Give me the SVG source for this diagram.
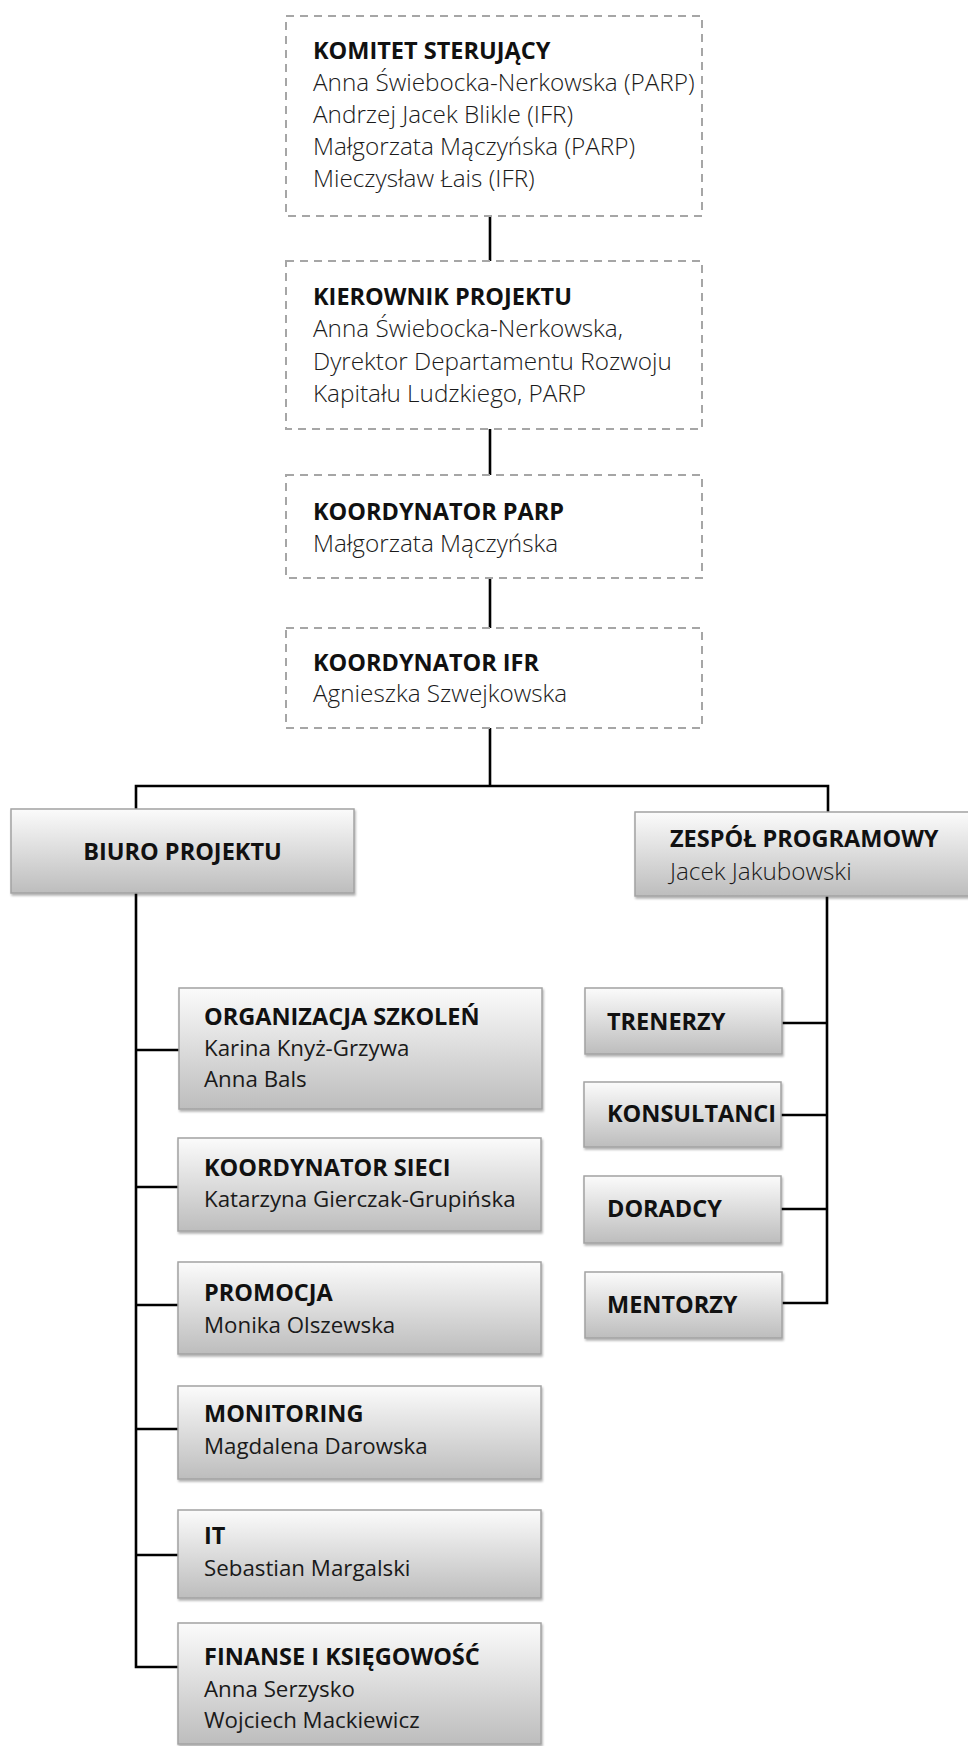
<svg xmlns="http://www.w3.org/2000/svg" width="968" height="1746" viewBox="0 0 968 1746">
<defs>
<linearGradient id="g" x1="0" y1="0" x2="0" y2="1">
<stop offset="0" stop-color="#fbfbfb"/>
<stop offset="1" stop-color="#bdbdbd"/>
</linearGradient>
<filter id="sh" x="-5%" y="-10%" width="115%" height="130%">
<feDropShadow dx="1" dy="2" stdDeviation="1.2" flood-color="#000" flood-opacity="0.3"/>
</filter>
<style>
.dash{fill:#fff;stroke:#a6a6a6;stroke-width:2;stroke-dasharray:8 6}
.box{fill:url(#g);stroke:#a3a3a3;stroke-width:1.5;filter:url(#sh)}
.t{font-family:"Open Sans","Noto Sans","Liberation Sans",sans-serif;font-size:23.5px;font-weight:700;fill:#111}
.n{font-family:"Open Sans","Noto Sans","Liberation Sans",sans-serif;font-size:22.3px;font-weight:400;fill:#1a1a1a}
.l{font-family:"Open Sans","Noto Sans","Liberation Sans",sans-serif;font-size:24.3px;font-weight:300;fill:#1a1a1a}
.c{fill:none;stroke:#000;stroke-width:2.6}
</style>
</defs>
<rect width="968" height="1746" fill="#fff"/>
<g id="connectors">
<path class="c" d="M490 216V261M490 429V475M490 578V628M490 728V786"/>
<path class="c" d="M136 809V786H828V812"/>
<path class="c" d="M136 893V1667H178M136 1050H179M136 1187H178M136 1305H178M136 1429H178M136 1555H178"/>
<path class="c" d="M827 896V1303H782M782 1023H827M781 1115H827M781 1209H827"/>
</g>
<g id="komitet">
<rect class="dash" x="286" y="16" width="416" height="200"/>
<text class="t" x="313" y="59">KOMITET STERUJĄCY</text>
<text class="l" x="313" y="91">Anna Świebocka-Nerkowska (PARP)</text>
<text class="l" x="313" y="123">Andrzej Jacek Blikle (IFR)</text>
<text class="l" x="313" y="155">Małgorzata Mączyńska (PARP)</text>
<text class="l" x="313" y="187">Mieczysław Łais (IFR)</text>
</g>
<g id="kierownik">
<rect class="dash" x="286" y="261" width="416" height="168"/>
<text class="t" x="313" y="305">KIEROWNIK PROJEKTU</text>
<text class="l" x="313" y="337">Anna Świebocka-Nerkowska,</text>
<text class="l" x="313" y="370">Dyrektor Departamentu Rozwoju</text>
<text class="l" x="313" y="402">Kapitału Ludzkiego, PARP</text>
</g>
<g id="koord-parp">
<rect class="dash" x="286" y="475" width="416" height="103"/>
<text class="t" x="313" y="520">KOORDYNATOR PARP</text>
<text class="l" x="313" y="552">Małgorzata Mączyńska</text>
</g>
<g id="koord-ifr">
<rect class="dash" x="286" y="628" width="416" height="100"/>
<text class="t" x="313" y="671">KOORDYNATOR IFR</text>
<text class="l" x="313" y="702">Agnieszka Szwejkowska</text>
</g>
<g id="biuro">
<rect class="box" x="11" y="809" width="343" height="84"/>
<text class="t" x="182.5" y="860" text-anchor="middle">BIURO PROJEKTU</text>
</g>
<g id="zespol">
<rect class="box" x="635" y="812" width="345" height="84"/>
<text class="t" x="670" y="847">ZESPÓŁ PROGRAMOWY</text>
<text class="l" x="670" y="880">Jacek Jakubowski</text>
</g>
<g id="organizacja">
<rect class="box" x="179" y="988" width="363" height="121"/>
<text class="t" x="204" y="1025">ORGANIZACJA SZKOLEŃ</text>
<text class="n" x="204" y="1056">Karina Knyż-Grzywa</text>
<text class="n" x="204" y="1087">Anna Bals</text>
</g>
<g id="koord-sieci">
<rect class="box" x="178" y="1138" width="363" height="93"/>
<text class="t" x="204" y="1176">KOORDYNATOR SIECI</text>
<text class="n" x="204" y="1207">Katarzyna Gierczak-Grupińska</text>
</g>
<g id="promocja">
<rect class="box" x="178" y="1262" width="363" height="92"/>
<text class="t" x="204" y="1301">PROMOCJA</text>
<text class="n" x="204" y="1333">Monika Olszewska</text>
</g>
<g id="monitoring">
<rect class="box" x="178" y="1386" width="363" height="93"/>
<text class="t" x="204" y="1422">MONITORING</text>
<text class="n" x="204" y="1454">Magdalena Darowska</text>
</g>
<g id="it">
<rect class="box" x="178" y="1510" width="363" height="88"/>
<text class="t" x="204" y="1544">IT</text>
<text class="n" x="204" y="1576">Sebastian Margalski</text>
</g>
<g id="finanse">
<rect class="box" x="178" y="1623" width="363" height="121"/>
<text class="t" x="204" y="1665">FINANSE I KSIĘGOWOŚĆ</text>
<text class="n" x="204" y="1697">Anna Serzysko</text>
<text class="n" x="204" y="1728">Wojciech Mackiewicz</text>
</g>
<g id="trenerzy">
<rect class="box" x="585" y="988" width="197" height="66"/>
<text class="t" x="607" y="1030">TRENERZY</text>
</g>
<g id="konsultanci">
<rect class="box" x="584" y="1082" width="197" height="65"/>
<text class="t" x="607" y="1122">KONSULTANCI</text>
</g>
<g id="doradcy">
<rect class="box" x="584" y="1176" width="197" height="67"/>
<text class="t" x="607" y="1217">DORADCY</text>
</g>
<g id="mentorzy">
<rect class="box" x="585" y="1272" width="197" height="66"/>
<text class="t" x="607" y="1313">MENTORZY</text>
</g>
</svg>
